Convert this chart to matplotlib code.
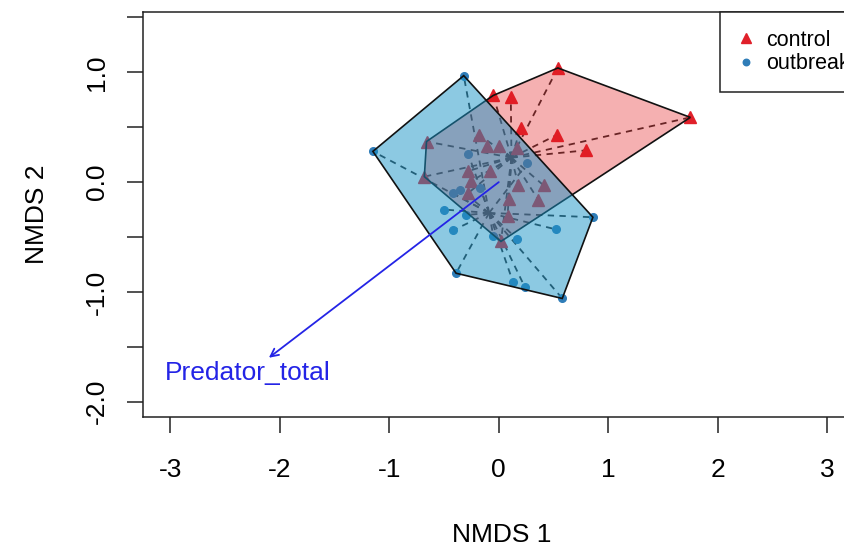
import numpy as np
import matplotlib.pyplot as plt
from matplotlib.patches import Polygon
from matplotlib.lines import Line2D

plt.rcParams['font.family'] = ['Liberation Sans', 'DejaVu Sans']

# NMDS site scores
control_x = [-0.05, 0.11, 0.54, 1.75, 0.20, 0.53, 0.80, -0.66, -0.68, -0.18, -0.11, 0.00,
             0.17, -0.28, -0.08, -0.25, -0.28, 0.18, 0.41, 0.36, 0.09, 0.08, 0.02]
control_y = [0.79, 0.78, 1.04, 0.59, 0.49, 0.43, 0.29, 0.37, 0.05, 0.43, 0.33, 0.33,
             0.31, 0.10, 0.10, 0.01, -0.10, -0.03, -0.03, -0.16, -0.15, -0.31, -0.54]
outbreak_x = [-0.32, -1.15, -0.39, 0.58, 0.86, -0.42, -0.30, 0.17, 0.52, 0.13, 0.24,
              -0.28, -0.35, -0.17, 0.26, -0.05, -0.42, -0.50]
outbreak_y = [0.97, 0.28, -0.83, -1.06, -0.32, -0.44, -0.30, -0.52, -0.43, -0.91, -0.96,
              0.26, -0.07, -0.05, 0.17, -0.49, -0.10, -0.25]

groups = ['control', 'outbreak']
group_x = [control_x, outbreak_x]
group_y = [control_y, outbreak_y]
point_cols = ['#E0202A', '#2F7DB8']
point_marks = ['^', 'o']
point_sizes = [8, 5.5]
hull_fill = [(0.89, 0.10, 0.11, 0.34), (0.10, 0.58, 0.78, 0.50)]

# envfit vector
vec_name = 'Predator_total'
vec_end = (-2.10, -1.60)
vec_label = (-2.29, -1.74)


def convex_hull(xs, ys):
    pts = sorted(set(zip(xs, ys)))

    def cross(o, a, b):
        return (a[0] - o[0]) * (b[1] - o[1]) - (a[1] - o[1]) * (b[0] - o[0])

    lower = []
    for p in pts:
        while len(lower) >= 2 and cross(lower[-2], lower[-1], p) <= 0:
            lower.pop()
        lower.append(p)
    upper = []
    for p in reversed(pts):
        while len(upper) >= 2 and cross(upper[-2], upper[-1], p) <= 0:
            upper.pop()
        upper.append(p)
    return lower[:-1] + upper[:-1]


fig = plt.figure(figsize=(8.44, 5.5), dpi=100)
ax = fig.add_axes([143 / 844, 1 - 417 / 550, 717 / 844, 405 / 550])

# spiders
for xs, ys in zip(group_x, group_y):
    cx, cy = np.mean(xs), np.mean(ys)
    for x, y in zip(xs, ys):
        ax.plot([cx, x], [cy, y], color='#2a2a2a', lw=1.3, ls=(0, (3.5, 3)), zorder=1)

# points
for xs, ys, c, m, s in zip(group_x, group_y, point_cols, point_marks, point_sizes):
    ax.plot(xs, ys, ls='none', marker=m, ms=s, color=c, mec=c, zorder=2)

# hulls
for xs, ys, fc in zip(group_x, group_y, hull_fill):
    hull = convex_hull(xs, ys)
    ax.add_patch(Polygon(hull, closed=True, facecolor=fc, edgecolor='#111111', lw=1.2, zorder=3))

ax.annotate('', xy=vec_end, xytext=(0, 0),
            arrowprops=dict(arrowstyle='->', color='#2424E6', lw=1.3, mutation_scale=14,
                            shrinkA=0, shrinkB=0), zorder=4)
ax.text(vec_label[0], vec_label[1], vec_name, color='#2424E6', fontsize=19,
        ha='center', va='center', zorder=4)

ax.set_xlim(-3.25, 3.30)
ax.set_ylim(-2.14, 1.55)
ax.set_xticks(range(-3, 4))
ax.set_xticklabels([str(v) for v in range(-3, 4)])
yt = np.arange(-2.0, 1.51, 0.5)
ax.set_yticks(yt)
ax.set_yticklabels(['%.1f' % v if abs(v - round(v)) < 1e-9 else '' for v in yt],
                   rotation=90, va='center')
ax.tick_params(direction='out', length=11.5, width=1.1, labelsize=19, color='#222222')
ax.tick_params(axis='x', pad=18)
ax.tick_params(axis='y', pad=13)
for sp in ax.spines.values():
    sp.set_linewidth(1.1)
    sp.set_color('#222222')

ax.set_xlabel('NMDS 1', fontsize=19)
ax.set_ylabel('NMDS 2', fontsize=19)
ax.xaxis.set_label_coords(0.5, -(535 - 417) / 405)
ax.yaxis.set_label_coords(-(143 - 37) / 717, 0.5)
ax.xaxis.label.set_va('center')
ax.yaxis.label.set_va('center')

handles = [Line2D([], [], ls='none', marker=m, ms=s * 0.85, color=c)
           for m, s, c in zip(point_marks, point_sizes, point_cols)]
leg = ax.legend(handles, groups, loc='upper left', bbox_to_anchor=((720 - 143) / 717, 1),
                borderaxespad=0, fontsize=15.5, frameon=True, fancybox=False, framealpha=1,
                edgecolor='#222222', handlelength=0.8, handletextpad=0.5, borderpad=0.82,
                labelspacing=0.12)
leg.get_frame().set_linewidth(1.1)
leg.set_zorder(5)

fig.savefig('out.png', dpi=100)
